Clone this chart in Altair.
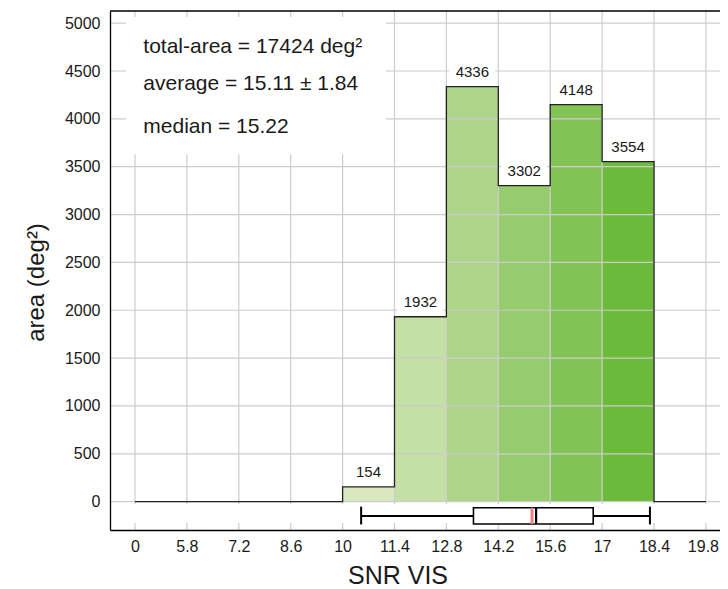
import json
import altair as alt
import pandas as pd

# ---- data ----
bin_lo = [10.0, 11.4, 12.8, 14.2, 15.6, 17.0]
bin_hi = [11.4, 12.8, 14.2, 15.6, 17.0, 18.4]
areas = [154, 1932, 4336, 3302, 4148, 3554]
bar_colors = ["#d9e8bf", "#c5e0a5", "#afd58a", "#96cc6e", "#82c355", "#6cba39"]

step_x = [4.4, 5.8, 7.2, 8.6, 10.0, 11.4, 12.8, 14.2, 15.6, 17.0, 18.4, 19.8]
step_y = [0, 0, 0, 0, 154, 1932, 4336, 3302, 4148, 3554, 0, 0]

x_ticks = [4.4, 5.8, 7.2, 8.6, 10.0, 11.4, 12.8, 14.2, 15.6, 17.0, 18.4, 19.8]
x_tick_labels = ["0", "5.8", "7.2", "8.6", "10", "11.4", "12.8", "14.2", "15.6", "17", "18.4", "19.8"]
y_ticks = [0, 500, 1000, 1500, 2000, 2500, 3000, 3500, 4000, 4500, 5000]

stats_text = ["total-area = 17424 deg²", "average = 15.11 ± 1.84", "median = 15.22"]
stats_y = [4685, 4302, 3856]
stats_x = [4.624, 4.624, 4.624]
stats_box_x = [4.158, 11.171]
stats_box_y = [3631, 5065]

whisker_lo, q1, median, q3, whisker_hi = 10.50, 13.53, 15.22, 16.76, 18.29
mean_val = 15.11
box_y_center = -149
box_y = [-63, -233]
cap_y = [-52, -238]
band_y = [-24, -222]

x_domain = [3.726, 20.18]
y_domain = [-296, 5127]

W, H = 610, 519

# ---- tables ----
bars = pd.DataFrame({"lo": bin_lo, "hi": bin_hi, "area": areas,
                     "bin": [f"b{i}" for i in range(len(areas))]})
bars["mid"] = (bars["lo"] + bars["hi"]) / 2
bars["label"] = bars["area"].astype(str)
step = pd.DataFrame({"x": step_x, "y": step_y})
vgrid = pd.DataFrame({"x": x_ticks})
hgrid = pd.DataFrame({"y": y_ticks})
stats = pd.DataFrame({"x": stats_x, "y": stats_y, "t": stats_text})
stats_box = pd.DataFrame({"x": [stats_box_x[0]], "x2": [stats_box_x[1]],
                          "y": [stats_box_y[0]], "y2": [stats_box_y[1]]})
band = pd.DataFrame({"x": [x_domain[0]], "x2": [x_domain[1]], "y": [band_y[0]], "y2": [band_y[1]]})
whisk = pd.DataFrame({"x": [whisker_lo], "x2": [whisker_hi], "y": [box_y_center]})
box = pd.DataFrame({"x": [q1], "x2": [q3], "y": [box_y[0]], "y2": [box_y[1]]})
caps = pd.DataFrame({"x": [whisker_lo, whisker_hi], "y": [cap_y[0]] * 2, "y2": [cap_y[1]] * 2})
med = pd.DataFrame({"x": [median], "y": [box_y[0]], "y2": [box_y[1]]})
mean = pd.DataFrame({"x": [mean_val], "y": [box_y[0]], "y2": [box_y[1]]})

xs = alt.Scale(domain=x_domain, nice=False, zero=False)
ys = alt.Scale(domain=y_domain, nice=False, zero=False)

label_expr = f"{json.dumps(x_tick_labels)}[indexof({json.dumps(x_ticks)}, datum.value)]"

x_axis = alt.Axis(values=x_ticks, labelExpr=label_expr, title="SNR VIS", grid=False,
                  ticks=False, domain=True, domainColor="black", domainWidth=1.3,
                  labelFontSize=16, labelPadding=8, labelColor="#1a1a1a", labelFlush=False,
                  labelOffset={"condition": {"test": "datum.value > 19", "value": -3}, "value": 0},
                  labelOverlap=False, titleFontSize=25, titleFontWeight="normal",
                  titleColor="#1a1a1a", titleX=287.5, titleY=53, titleBaseline="alphabetic",
                  titleAlign="center", zindex=1)
y_axis = alt.Axis(values=y_ticks, format="d", title="area (deg²)", grid=False, ticks=False,
                  domain=True, domainColor="black", domainWidth=1.3, labelFontSize=16,
                  labelPadding=10, labelColor="#1a1a1a", titleFontSize=24,
                  titleFontWeight="normal", titleColor="#1a1a1a", titleX=-62, titleY=271,
                  titleAngle=270, titleAlign="center", titleBaseline="bottom", zindex=1)


def X(f):
    return alt.X(f, scale=xs, axis=x_axis, title="SNR VIS")


def Y(f):
    return alt.Y(f, scale=ys, axis=y_axis, title="area (deg²)")


bar_layer = alt.Chart(bars).mark_rect(strokeWidth=0).encode(
    x=X("lo:Q"), x2="hi:Q", y=Y("area:Q"), y2=alt.datum(0),
    color=alt.Color("bin:N", scale=alt.Scale(domain=list(bars["bin"]), range=bar_colors), legend=None),
)
vgrid_layer = alt.Chart(vgrid).mark_rule(color="#cccccc", strokeWidth=1.2).encode(x=X("x:Q"))
hgrid_layer = alt.Chart(hgrid).mark_rule(color="#cccccc", strokeWidth=1.2).encode(y=Y("y:Q"))
band_layer = alt.Chart(band).mark_rect(color="white").encode(
    x=X("x:Q"), x2="x2:Q", y=Y("y:Q"), y2="y2:Q")
label_bg = alt.Chart(bars).mark_rect(color="white", xOffset=3, x2Offset=-3, yOffset=-27, y2Offset=-2).encode(
    x=X("lo:Q"), x2="hi:Q", y=Y("area:Q"), y2="area:Q")
step_layer = alt.Chart(step).mark_line(interpolate="step-after", color="#222222", strokeWidth=1.3).encode(
    x=X("x:Q"), y=Y("y:Q"))
labels = alt.Chart(bars).mark_text(baseline="alphabetic", dy=-9.5, fontSize=15, color="#1a1a1a").encode(
    x=X("mid:Q"), y=Y("area:Q"), text="label:N")
sbox = alt.Chart(stats_box).mark_rect(color="white").encode(
    x=X("x:Q"), x2="x2:Q", y=Y("y:Q"), y2="y2:Q")
stext = alt.Chart(stats).mark_text(align="left", baseline="alphabetic", fontSize=21, color="#1a1a1a").encode(
    x=X("x:Q"), y=Y("y:Q"), text="t:N")
whisk_layer = alt.Chart(whisk).mark_rule(color="black", strokeWidth=2).encode(
    x=X("x:Q"), x2="x2:Q", y=Y("y:Q"))
caps_layer = alt.Chart(caps).mark_rule(color="black", strokeWidth=2).encode(
    x=X("x:Q"), y=Y("y:Q"), y2="y2:Q")
box_layer = alt.Chart(box).mark_rect(fill="white", stroke="black", strokeWidth=1.6).encode(
    x=X("x:Q"), x2="x2:Q", y=Y("y:Q"), y2="y2:Q")
mean_layer = alt.Chart(mean).mark_rule(color="#f08080", strokeWidth=3).encode(
    x=X("x:Q"), y=Y("y:Q"), y2="y2:Q")
med_layer = alt.Chart(med).mark_rule(color="black", strokeWidth=2.2).encode(
    x=X("x:Q"), y=Y("y:Q"), y2="y2:Q")
top_border = alt.Chart(pd.DataFrame({"k": [0]})).mark_rule(color="black", strokeWidth=1.3).encode(
    x=alt.value(0), x2=alt.value(W), y=alt.value(0))

chart = alt.layer(
    bar_layer, vgrid_layer, hgrid_layer, band_layer, label_bg, step_layer, labels,
    sbox, stext, whisk_layer, caps_layer, box_layer, mean_layer, med_layer, top_border,
).properties(
    width=W, height=H,
    autosize=alt.AutoSizeParams(type="none"),
    padding={"left": 102, "top": 3, "right": 0, "bottom": 59},
).configure(
    font="Liberation Sans",
).configure_view(
    stroke=None,
)

chart.save("out.html", embed_options={"renderer": "svg", "actions": False})
